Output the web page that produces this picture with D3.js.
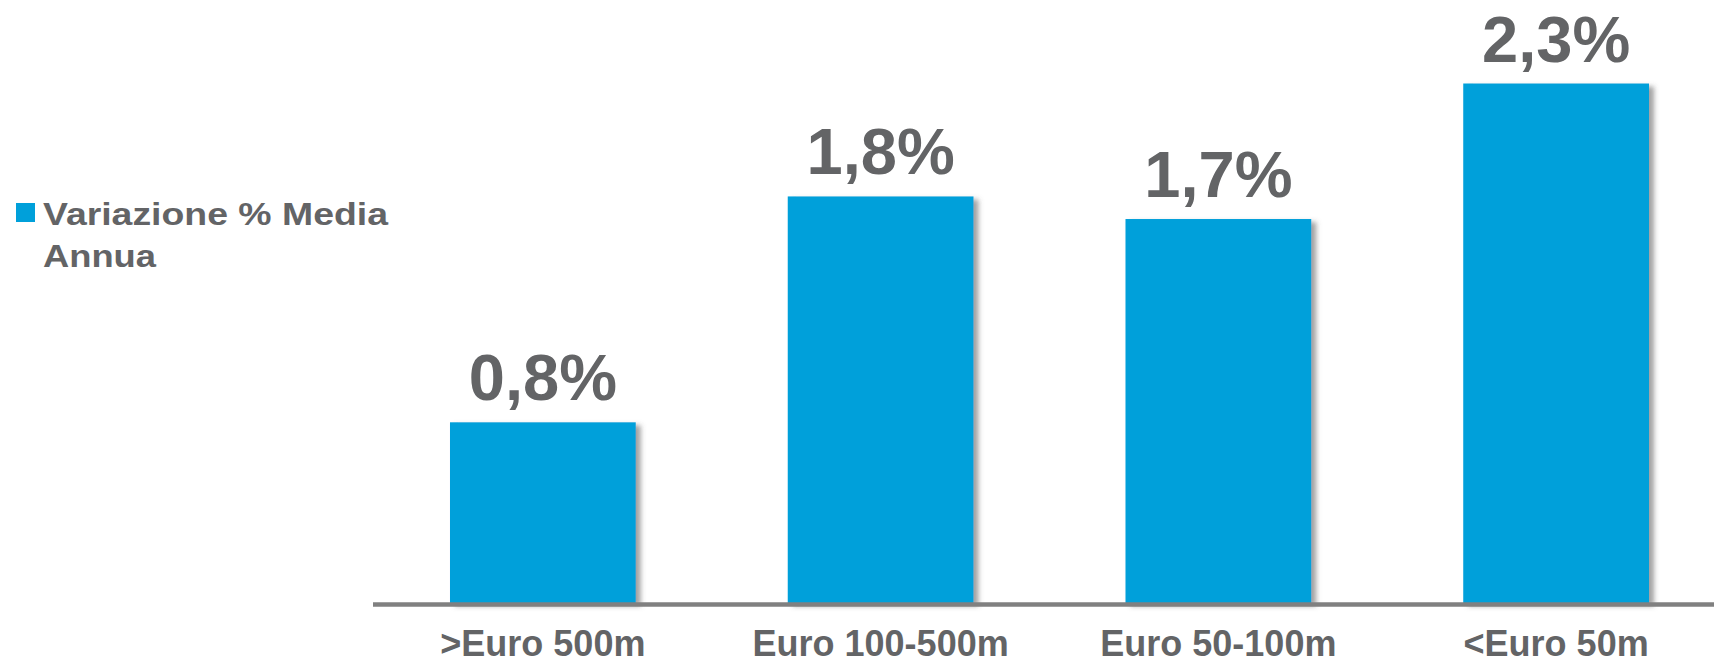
<!DOCTYPE html>
<html>
<head>
<meta charset="utf-8">
<script src="https://cdn.jsdelivr.net/npm/d3@7"></script>
<style>
  html, body { margin: 0; padding: 0; background: #fff; }
  svg { display: block; font-family: "Liberation Sans", Arial, sans-serif; }
</style>
</head>
<body>
<div id="chart"></div>
<script>
const categories = ['>Euro 500m', 'Euro 100-500m', 'Euro 50-100m', '<Euro 50m'];
const values = [0.8, 1.8, 1.7, 2.3];
const valueLabels = ['0,8%', '1,8%', '1,7%', '2,3%'];
const legendLines = ['Variazione % Media', 'Annua'];

const width = 1714;
const height = 664;
const barColor = '#00a0da';
const textColor = '#636466';
const axisColor = '#808080';

const svg = d3.select('#chart')
  .append('svg')
  .attr('width', width)
  .attr('height', height);

// Shadow on the right side of the bars
const defs = svg.append('defs');
const shadow = defs.append('filter')
  .attr('id', 'barShadow')
  .attr('x', '-10%').attr('y', '-10%')
  .attr('width', '130%').attr('height', '130%');
shadow.append('feDropShadow')
  .attr('dx', 5)
  .attr('dy', 3)
  .attr('stdDeviation', 2.5)
  .attr('flood-color', '#555')
  .attr('flood-opacity', 0.55);

// Scales
const x = d3.scaleBand()
  .domain(categories)
  .range([374, 1725])
  .paddingInner(0.45)
  .paddingOuter(0.225);

const y = d3.scaleLinear()
  .domain([0, 2.3])
  .range([603, 83.5]);

const data = categories.map((c, i) => ({ cat: c, value: values[i], label: valueLabels[i] }));

// Bars
svg.selectAll('.bar')
  .data(data)
  .enter()
  .append('rect')
  .attr('class', 'bar')
  .attr('x', d => x(d.cat))
  .attr('y', d => y(d.value))
  .attr('width', x.bandwidth())
  .attr('height', d => y(0) - y(d.value))
  .attr('fill', barColor)
  .attr('filter', 'url(#barShadow)');

// Value labels
svg.selectAll('.value-label')
  .data(data)
  .enter()
  .append('text')
  .attr('class', 'value-label')
  .attr('x', d => x(d.cat) + x.bandwidth() / 2)
  .attr('y', d => y(d.value) - 22)
  .attr('text-anchor', 'middle')
  .attr('fill', textColor)
  .style('font-size', '65px')
  .style('font-weight', 'bold')
  .text(d => d.label);

// X axis line
svg.append('line')
  .attr('x1', 373)
  .attr('x2', width)
  .attr('y1', 604.5)
  .attr('y2', 604.5)
  .attr('stroke', axisColor)
  .attr('stroke-width', 4.5);

// Category labels
svg.selectAll('.cat-label')
  .data(categories)
  .enter()
  .append('text')
  .attr('class', 'cat-label')
  .attr('x', d => x(d) + x.bandwidth() / 2)
  .attr('y', 656)
  .attr('text-anchor', 'middle')
  .attr('fill', textColor)
  .style('font-size', '36px')
  .style('font-weight', 'bold')
  .text(d => d);

// Legend
const legend = svg.append('g');
legend.append('rect')
  .attr('x', 16)
  .attr('y', 203)
  .attr('width', 19)
  .attr('height', 19)
  .attr('fill', barColor);

legend.selectAll('text')
  .data(legendLines)
  .enter()
  .append('text')
  .attr('x', 43)
  .attr('y', (d, i) => 225 + i * 42)
  .attr('fill', textColor)
  .style('font-size', '31px')
  .style('font-weight', 'bold')
  .attr('textLength', (d, i) => i === 0 ? 345 : 113)
  .attr('lengthAdjust', 'spacingAndGlyphs')
  .text(d => d);
</script>
</body>
</html>
